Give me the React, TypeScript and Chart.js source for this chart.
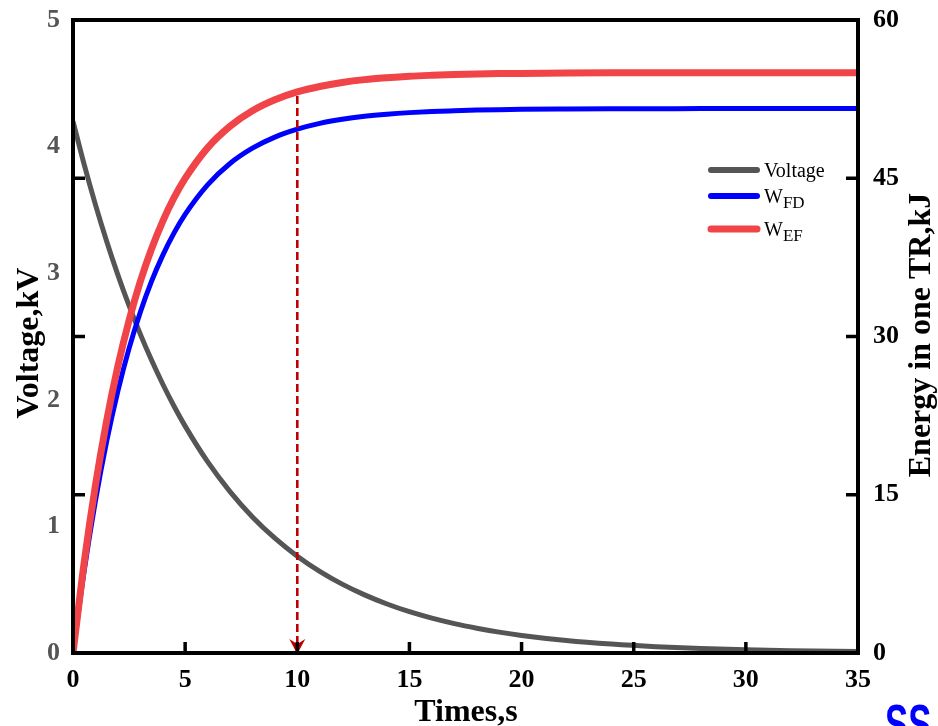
import { useEffect, useRef } from "react";
import { Chart, registerables } from "chart.js";

Chart.register(...registerables);

// Time samples, s
const times = [
  0, 0.5, 1, 1.5, 2, 2.5, 3, 3.5, 4, 4.5, 5, 6, 7, 8, 9, 10, 11, 12, 13, 14, 15,
  16, 17, 18, 19, 20, 22, 24, 26, 28, 30, 32, 35,
];

// Capacitor voltage, kV
const voltage = [
  4.2, 3.857, 3.542, 3.253, 2.987, 2.743, 2.519, 2.314, 2.125, 1.951, 1.792,
  1.511, 1.275, 1.075, 0.907, 0.765, 0.645, 0.544, 0.459, 0.387, 0.326, 0.275,
  0.232, 0.196, 0.165, 0.139, 0.099, 0.0705, 0.05, 0.0356, 0.0253, 0.018, 0.011,
];

// Energy W_FD, kJ
const wFD = [
  0, 7.8, 14.42, 20.04, 24.81, 28.87, 32.3, 35.22, 37.69, 39.8, 41.58, 44.38,
  46.4, 47.85, 48.9, 49.65, 50.2, 50.59, 50.87, 51.07, 51.22, 51.33, 51.4,
  51.46, 51.5, 51.53, 51.56, 51.58, 51.59, 51.6, 51.6, 51.6, 51.6,
];

// Energy W_EF, kJ
const wEF = [
  0, 8.61, 15.88, 22.01, 27.17, 31.53, 35.21, 38.3, 40.92, 43.13, 44.98, 47.88,
  49.93, 51.4, 52.44, 53.18, 53.7, 54.08, 54.35, 54.53, 54.67, 54.76, 54.83,
  54.88, 54.92, 54.94, 54.97, 54.99, 55, 55, 55, 55, 55,
];

const timeTicks = [5, 10, 15, 20, 25, 30];
const energyTicks = [15, 30, 45];
const markerTime = 10;

const SERIF = "'Liberation Serif', 'Times New Roman', serif";

const frameAndMarks = {
  id: "frameAndMarks",
  afterDatasetsDraw(chart: any) {
    const { ctx, chartArea: a, scales } = chart;
    const x = scales.x;
    const y2 = scales.y2;

    // dashed marker from W_EF at t = 10 s down to the time axis
    const idx = times.indexOf(markerTime);
    const px = x.getPixelForValue(markerTime);
    const topY = y2.getPixelForValue(wEF[idx]);
    const baseY = y2.getPixelForValue(0);
    ctx.save();
    ctx.strokeStyle = "#c00000";
    ctx.lineWidth = 2.6;
    ctx.setLineDash([8, 4]);
    ctx.beginPath();
    ctx.moveTo(px, topY + 4);
    ctx.lineTo(px, baseY - 10);
    ctx.stroke();
    ctx.setLineDash([]);
    ctx.fillStyle = "#c00000";
    ctx.beginPath();
    ctx.moveTo(px, baseY + 1);
    ctx.lineTo(px - 8, baseY - 14);
    ctx.lineTo(px, baseY - 9);
    ctx.lineTo(px + 8, baseY - 14);
    ctx.closePath();
    ctx.fill();
    ctx.restore();

    // frame
    ctx.save();
    ctx.strokeStyle = "#000";
    ctx.lineWidth = 4;
    ctx.strokeRect(a.left, a.top, a.right - a.left, a.bottom - a.top);

    // inward tick marks
    ctx.lineWidth = 3.5;
    ctx.beginPath();
    for (const v of energyTicks) {
      const py = y2.getPixelForValue(v);
      ctx.moveTo(a.left, py);
      ctx.lineTo(a.left + 12, py);
      ctx.moveTo(a.right, py);
      ctx.lineTo(a.right - 12, py);
    }
    for (const t of timeTicks) {
      const tx = x.getPixelForValue(t);
      ctx.moveTo(tx, a.bottom);
      ctx.lineTo(tx, a.bottom - 11);
    }
    ctx.stroke();
    ctx.restore();
  },
  afterDraw(chart: any) {
    const { ctx } = chart;
    ctx.save();

    // axis titles
    ctx.fillStyle = "#000";
    ctx.font = `bold 32px ${SERIF}`;
    ctx.textAlign = "center";
    ctx.textBaseline = "middle";
    ctx.save();
    ctx.translate(30, 343);
    ctx.rotate(-Math.PI / 2);
    ctx.fillText("Voltage,kV", 0, 0);
    ctx.restore();
    ctx.save();
    ctx.translate(922, 335);
    ctx.rotate(-Math.PI / 2);
    ctx.fillText("Energy in one TR,kJ", 0, 0);
    ctx.restore();
    ctx.textBaseline = "alphabetic";
    ctx.fillText("Times,s", 466, 721);

    // legend
    const entries = [
      { color: "#555555", width: 6, y: 170, main: "Voltage", sub: "" },
      { color: "#0000ff", width: 6, y: 196, main: "W", sub: "FD" },
      { color: "#f04448", width: 7, y: 229, main: "W", sub: "EF" },
    ];
    ctx.lineCap = "round";
    ctx.textAlign = "left";
    for (const e of entries) {
      ctx.strokeStyle = e.color;
      ctx.lineWidth = e.width;
      ctx.beginPath();
      ctx.moveTo(711, e.y);
      ctx.lineTo(757, e.y);
      ctx.stroke();
      ctx.fillStyle = "#000";
      ctx.font = `20px ${SERIF}`;
      const base = e.y + 7;
      ctx.fillText(e.main, 764, base);
      if (e.sub) {
        const w = ctx.measureText(e.main).width;
        ctx.font = `17px ${SERIF}`;
        ctx.fillText(e.sub, 764 + w, base + 5);
      }
    }

    // corner mark, cut by the bottom edge
    ctx.save();
    ctx.fillStyle = "#0000ff";
    ctx.font = "bold 56px 'Liberation Sans', Arial, sans-serif";
    ctx.translate(885, 743);
    ctx.scale(0.62, 1);
    ctx.fillText("SS", 0, 0);
    ctx.restore();

    ctx.restore();
  },
};

export default function App() {
  const ref = useRef<HTMLCanvasElement | null>(null);

  useEffect(() => {
    if (!ref.current) return;
    const pts = (vals: number[]) => times.map((t, i) => ({ x: t, y: vals[i] }));

    const chart = new Chart(ref.current, {
      type: "line",
      data: {
        datasets: [
          {
            label: "W_EF",
            data: pts(wEF),
            yAxisID: "y2",
            borderColor: "#f04448",
            borderWidth: 7,
            order: 0,
          },
          {
            label: "W_FD",
            data: pts(wFD),
            yAxisID: "y2",
            borderColor: "#0000ff",
            borderWidth: 5,
            order: 1,
          },
          {
            label: "Voltage",
            data: pts(voltage),
            yAxisID: "y",
            borderColor: "#555555",
            borderWidth: 5,
            order: 2,
          },
        ],
      },
      options: {
        responsive: false,
        animation: false,
        devicePixelRatio: 1,
        layout: { padding: { top: 20, left: 0, right: 0, bottom: 0 } },
        elements: {
          point: { radius: 0 },
          line: { cubicInterpolationMode: "monotone", fill: false },
        },
        plugins: {
          legend: { display: false },
          tooltip: { enabled: false },
        },
        scales: {
          x: {
            type: "linear",
            position: "bottom",
            min: 0,
            max: 35,
            ticks: {
              stepSize: 5,
              color: "#000",
              padding: 12,
              maxRotation: 0,
              font: { family: SERIF, size: 26, weight: "bold" },
            },
            grid: { display: false, drawTicks: false },
            border: { display: false },
            afterFit(s: any) {
              s.height = 73;
              s.paddingLeft = 0;
              s.paddingRight = 0;
            },
          },
          y: {
            type: "linear",
            position: "left",
            min: 0,
            max: 5,
            ticks: {
              stepSize: 1,
              color: "#555555",
              padding: 13,
              font: { family: SERIF, size: 26, weight: "bold" },
            },
            grid: { display: false, drawTicks: false },
            border: { display: false },
            afterFit(s: any) {
              s.width = 73;
              s.paddingTop = 0;
              s.paddingBottom = 0;
            },
          },
          y2: {
            type: "linear",
            position: "right",
            min: 0,
            max: 60,
            ticks: {
              stepSize: 15,
              color: "#000",
              padding: 15,
              font: { family: SERIF, size: 26, weight: "bold" },
            },
            grid: { display: false, drawTicks: false },
            border: { display: false },
            afterFit(s: any) {
              s.width = 80;
              s.paddingTop = 0;
              s.paddingBottom = 0;
            },
          },
        },
      },
      plugins: [frameAndMarks],
    });

    return () => chart.destroy();
  }, []);

  return (
    <div
      style={{
        position: "absolute",
        left: 0,
        top: 0,
        width: 938,
        height: 726,
        background: "#fff",
        overflow: "hidden",
      }}
    >
      <canvas ref={ref} width={938} height={726} style={{ display: "block" }} />
    </div>
  );
}
